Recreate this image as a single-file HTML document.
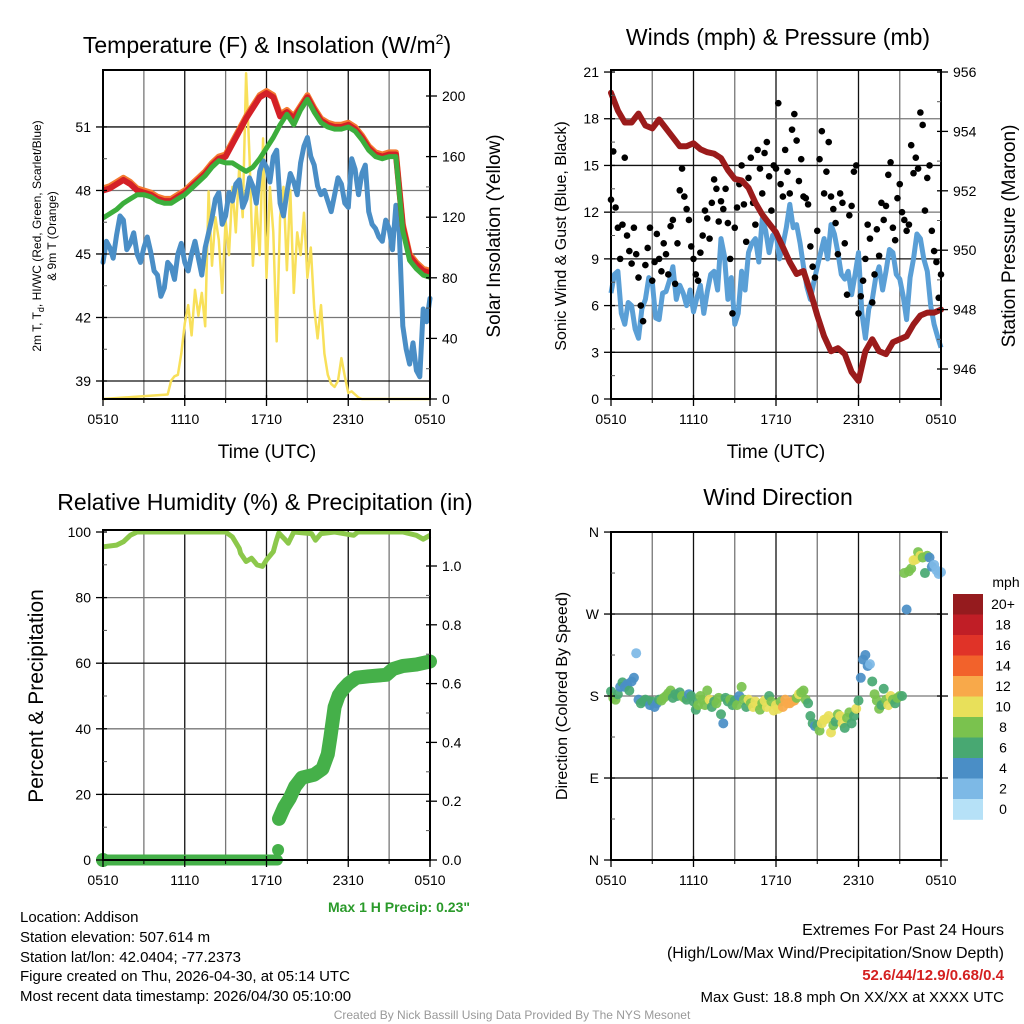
<!DOCTYPE html>
<html><head><meta charset="utf-8"><style>
html,body{margin:0;padding:0;background:#fff;}
svg{display:block;font-family:"Liberation Sans",sans-serif;}
</style></head><body>
<svg id="s" width="1024" height="1024" viewBox="0 0 1024 1024" xmlns="http://www.w3.org/2000/svg">
<rect width="1024" height="1024" fill="#fff"/>
<g id="g"></g>
<text x="267" y="53" font-size="23" text-anchor="middle">Temperature (F) &amp; Insolation (W/m<tspan font-size="14" dy="-9">2</tspan><tspan dy="9">)</tspan></text>
<text x="778" y="45" font-size="23" text-anchor="middle">Winds (mph) &amp; Pressure (mb)</text>
<text x="265" y="510" font-size="23" text-anchor="middle">Relative Humidity (%) &amp; Precipitation (in)</text>
<text x="778" y="505" font-size="23" text-anchor="middle">Wind Direction</text>
<text x="267" y="458" font-size="19" text-anchor="middle">Time (UTC)</text>
<text x="776" y="458" font-size="19" text-anchor="middle">Time (UTC)</text>
<text transform="translate(41,236) rotate(-90)" font-size="12" text-anchor="middle">2m T, T<tspan font-size="9" dy="3">d</tspan><tspan dy="-3">, HI/WC (Red, Green, Scarlet/Blue)</tspan></text>
<text transform="translate(56,236) rotate(-90)" font-size="12" text-anchor="middle">&amp; 9m T (Orange)</text>
<text transform="translate(500,236) rotate(-90)" font-size="19" text-anchor="middle">Solar Insolation (Yellow)</text>
<text transform="translate(566,236) rotate(-90)" font-size="16" text-anchor="middle">Sonic Wind &amp; Gust (Blue, Black)</text>
<text transform="translate(1015,236) rotate(-90)" font-size="19" text-anchor="middle">Station Pressure (Maroon)</text>
<text transform="translate(43,696) rotate(-90)" font-size="21" text-anchor="middle">Percent &amp; Precipitation</text>
<text transform="translate(567,696) rotate(-90)" font-size="16" text-anchor="middle">Direction (Colored By Speed)</text>
<text x="470" y="912" font-size="14" font-weight="bold" fill="#2a9a2a" text-anchor="end">Max 1 H Precip: 0.23"</text>
<g font-size="15">
<text x="20" y="922">Location: Addison</text>
<text x="20" y="942">Station elevation: 507.614 m</text>
<text x="20" y="962">Station lat/lon: 42.0404; -77.2373</text>
<text x="20" y="981">Figure created on Thu, 2026-04-30, at 05:14 UTC</text>
<text x="20" y="1001">Most recent data timestamp: 2026/04/30 05:10:00</text>
</g>
<g font-size="16" text-anchor="end">
<text x="1004" y="935">Extremes For Past 24 Hours</text>
<text x="1004" y="958">(High/Low/Max Wind/Precipitation/Snow Depth)</text>
<text x="1004" y="980" font-weight="bold" fill="#d42020" font-size="15">52.6/44/12.9/0.68/0.4</text>
<text x="1004" y="1002" font-size="15">Max Gust: 18.8 mph On XX/XX at XXXX UTC</text>
</g>
<text x="512" y="1019" font-size="12" fill="#999" text-anchor="middle">Created By Nick Bassill Using Data Provided By The NYS Mesonet</text>
</svg>
<script>
// ---- data (hours since 0510 UTC) ----
const halfHours = [0,0.5,1,1.5,2,2.5,3,3.5,4,4.5,5,5.5,6,6.5,7,7.5,8,8.5,9,9.5,10,10.5,11,11.5,12,12.5,13,13.5,14,14.5,15,15.5,16,16.5,17,17.5,18,18.5,19,19.5,20,20.5,21,21.5,22,22.5,23,23.5,24];
const tempRed = [48.0,48.1,48.3,48.5,48.3,48.0,47.9,47.8,47.6,47.5,47.5,47.7,47.9,48.2,48.5,48.8,49.2,49.5,49.6,50.2,50.8,51.4,51.9,52.4,52.6,52.4,51.5,51.7,51.4,51.9,52.4,51.8,51.3,51.1,51.0,51.0,51.1,50.9,50.5,50.0,49.7,49.6,49.7,49.7,46.3,44.9,44.5,44.2,44.1];
const tempOrange = [48.1,48.2,48.4,48.6,48.4,48.1,48.0,47.9,47.7,47.6,47.6,47.8,48.0,48.3,48.6,48.9,49.3,49.6,49.7,50.3,50.9,51.5,52.0,52.5,52.7,52.5,51.6,51.8,51.5,52.0,52.5,51.9,51.4,51.2,51.1,51.1,51.2,51.0,50.6,50.1,49.8,49.7,49.8,49.8,46.4,45.0,44.6,44.3,44.2];
const tempGreen = [46.7,46.9,47.1,47.4,47.6,47.8,47.8,47.7,47.5,47.4,47.4,47.6,47.8,48.1,48.4,48.7,49.1,49.4,49.3,49.3,49.1,48.9,49.1,49.5,50.0,50.5,51.1,51.6,51.1,51.8,52.3,51.7,51.2,51.0,50.9,50.9,51.0,50.8,50.4,49.9,49.6,49.5,49.6,49.6,46.1,44.7,44.3,44.0,43.9];
const dewBlue = [44.6,45.3,45.9,46.6,45.5,45.0,45.3,45.1,44.0,43.4,44.4,45.0,44.6,45.0,44.8,45.3,46.7,47.9,46.8,47.5,48.5,47.6,48.2,48.9,49.1,49.6,47.4,47.9,48.4,49.3,50.5,49.2,47.8,47.5,47.8,48.3,47.2,49.0,48.8,47.0,46.2,45.6,46.2,47.3,41.6,39.8,39.5,42.4,42.9];
const dewBlueMid = [45.6,44.8,46.8,45.2,46.0,44.6,45.8,44.2,43.0,44.6,43.8,45.5,44.2,45.6,44.0,46.0,47.6,46.4,47.9,48.3,47.2,48.6,47.4,49.4,48.4,49.9,46.8,48.8,47.8,50.1,49.6,48.2,48.0,47.0,48.6,47.4,49.5,47.8,49.2,46.4,45.8,46.6,45.2,46.0,40.5,40.8,39.2,41.8];
const solarStart = 4.75; // hours, 0.25 h step
const solarVals = [3,12,15,16,30,50,62,42,72,55,70,48,137,88,120,105,70,118,95,140,110,154,120,215,160,88,130,95,172,80,140,110,38,120,140,85,138,70,110,95,123,80,100,60,40,62,30,16,10,8,12,27,15,4,5,3,1,0];
const pressure = [955.3,954.7,954.3,954.3,954.6,954.2,954.1,954.4,954.1,953.8,953.5,953.5,953.6,953.4,953.3,953.25,953.1,952.7,952.4,952.35,952.1,951.6,951.2,950.9,950.6,950.1,949.6,949.2,949.3,948.6,947.8,947.1,946.6,946.7,946.5,945.9,945.6,946.6,947.0,946.6,946.5,946.9,947.0,947.1,947.5,947.8,947.9,947.9,948.0];
const windSpeed = [6.8,8.2,4.8,6.0,3.9,6.4,7.5,5.1,6.9,8.5,7.3,6.0,5.6,7.3,6.9,8.2,10.3,6.4,4.8,8.2,9.4,10.3,11.6,9.4,10.7,9.9,12.5,11.2,8.5,6.4,8.5,10.3,11.2,9.4,7.7,6.7,9.4,3.9,6.4,8.5,8.2,9.4,7.7,5.1,9.0,10.3,8.2,4.8,3.3];
const windSpeedMid = [8.0,5.5,6.2,4.5,5.8,7.8,5.2,6.8,7.6,6.4,6.8,7.0,6.5,5.5,8.0,7.0,9.2,7.8,5.5,7.0,10.0,8.8,10.8,10.5,9.0,11.0,11.0,10.0,7.2,7.5,9.4,9.0,10.6,8.0,8.2,8.0,5.5,5.8,7.8,7.0,9.6,8.0,6.6,7.8,10.6,9.0,6.0,4.0];
const gustVals = [12.8,15.9,12.3,11.0,9.0,11.2, 15.5,10.5,9.5,8.7,11.0,9.3, 7.8,6.0,5.0,8.6,9.7,11.0, 7.6,8.8,10.6,9.0,8.2,10.0, 9.3,8.0,11.1,11.5,7.4,10.0, 13.4,14.8,13.0,12.2,11.5,9.8, 9.0,8.0,7.6,9.4,10.5,12.1, 11.6,10.3,12.6,14.1,13.5,11.4, 12.7,12.2,13.5,11.3,9.0,5.5, 11.0,12.3,13.8,15.0,12.5,10.1, 14.2,15.5,12.6,11.2,16.0,14.8, 13.2,15.8,16.5,14.3,12.1,15.0, 14.8,19.0,13.8,13.0,16.0,14.6, 13.2,17.3,18.3,16.6,14.0,15.4, 13.0,12.9,12.5,9.8,8.5,7.8, 10.8,15.4,17.2,13.2,14.6,16.5, 13.0,12.2,11.3,9.3,13.2,12.6, 10.0,6.7,11.8,12.4,14.6,15.0, 5.5,6.6,7.6,9.0,11.2,10.3, 6.2,8.0,10.9,9.2,12.6,11.5, 12.4,14.4,15.2,11.0,10.2,12.9, 13.8,12.0,11.5,10.8,11.2,16.3, 14.5,15.5,14.8,18.4,17.6,12.1, 14.2,15.0,10.8,9.5,8.8,6.5, 8.0];
const rhHours = [0,1,1.5,2,2.5,9,9.5,10,10.1,10.5,10.9,11.3,11.7,12.0,12.5,12.7,12.9,13.3,13.6,14.0,15.3,15.6,16.0,17.0,18.4,18.7,22.0,23.0,23.5,24];
const rhVals = [95.5,96,97,99,100,100,98.5,95,93.5,91,92,90,89.5,91.5,94,97,99.7,98,96.6,100,99.5,97.5,99.5,100,99,100,100,99,97.8,99];
const precipDryHours = [0,12.8];
const precipDryVals = [0,0];
const precipDotHour = [12.85];
const precipDotVal = [0.034];
const precipHours = [12.92,13.3,13.7,14.1,14.6,15.5,16.1,16.5,16.7,17.0,17.3,17.6,18.0,18.6,19.5,20.8,21.3,22.0,23.0,24];
const precipVals = [0.14,0.18,0.21,0.25,0.28,0.29,0.31,0.36,0.42,0.52,0.56,0.58,0.60,0.62,0.625,0.63,0.65,0.66,0.665,0.675];
const dirVals = [185,178,176,182,190,195, 190,193,186,196,200,227, 176,172,174,176,175,170, 174,168,172,176,175,178, 180,183,186,178,182,180, 184,180,178,176,182,180, 174,165,170,180,176,170, 186,176,168,174,172,178, 160,150,178,174,176,170, 175,170,180,190,176,168, 176,172,168,174,170,165, 172,175,168,180,174,164, 170,166,174,168,176,172, 172,174,175,178,182,184, 186,176,172,158,150,147, 148,142,150,154,155,158, 140,148,152,160,158,150, 145,156,162,150,158,166, 175,200,220,225,213,215, 196,182,175,166,170,188, 176,170,180,176,172,178, 180,180,315,275,317,320, 329,330,338,334,332,315, 334,332,322,324,318,314, 316];
const dirSpeed = [6,8,8,5,4,6, 4,4,6,4,3,2, 4,6,6,6,5,4, 6,4,4,6,8,8, 8,8,8,6,6,6, 6,8,8,6,4,6, 6,6,8,8,8,8, 8,10,6,6,8,8, 6,4,6,6,8,6, 6,8,4,8,8,6, 10,8,10,10,10,8, 8,10,10,6,8,10, 10,10,8,12,12,12, 12,12,12,8,10,8, 8,8,6,6,6,4, 6,8,10,10,10,10, 10,8,6,8,10,10, 6,8,8,6,6,10, 6,4,4,4,4,2, 6,8,8,8,6,6, 8,10,10,8,6,8, 8,6,8,4,8,8, 10,10,8,10,8,6, 8,4,4,2,2,2, 2];
const speedLabels = ["0","2","4","6","8","10","12","14","16","18","20+"];
const speedColors = ["#b6e1f7","#7db9e6","#4a8ec6","#48a872","#7ac24e","#e8e05a","#f8a94a","#f2622b","#e03328","#c01e26","#951b1e"];
const timeLabels = ["0510","1110","1710","2310","0510"];
const tempTicks = [39,42,45,48,51];
const solarTicks = [0,40,80,120,160,200];
const windTicks = [0,3,6,9,12,15,18,21];
const presTicks = [946,948,950,952,954,956];
const rhTicks = [0,20,40,60,80,100];
const precipTicks = [0.0,0.2,0.4,0.6,0.8,1.0];
const dirTicks = [0,90,180,270,360];
const dirLabels = ["N","E","S","W","N"];

// ---- scales ----
const P1={x0:103,x1:430,y0:70,y1:399}, P2={x0:611,x1:941,y0:70,y1:399}, P3={x0:103,x1:430,y0:530,y1:860}, P4={x0:611,x1:941,y0:532,y1:860};
const x1 = h=>103+h*13.625, x2 = h=>611+h*13.75;
const yT = t=>381-(t-39)*21.17, yS = s=>399-s*1.515;
const yW = v=>399-v*15.57, yP = p=>369-(p-946)*29.7;
const yR = r=>860-r*3.28, yI = i=>860-i*294;
const yD = d=>860-d*0.911;

const NS="http://www.w3.org/2000/svg", G=document.getElementById('g');
function mk(tag, attrs, parent){const e=document.createElementNS(NS,tag);for(const k in attrs)e.setAttribute(k,attrs[k]);(parent||G).appendChild(e);return e;}
function grp(name){const g=mk('g',{});return g;}
function pts(xs,ys,fx,fy){return xs.map((h,i)=>fx(h).toFixed(1)+','+fy(ys[i]).toFixed(1)).join(' ');}
function interleave(main,mid){const hs=[],vs=[];main.forEach((v,i)=>{hs.push(halfHours[i]);vs.push(v);if(i<mid.length){hs.push(halfHours[i]+0.25);vs.push(mid[i]);}});return [hs,vs];}

function frame(P,name,hLines){
  const g=grp(name);
  for(let i=1;i<8;i++){const x=P.x0+(P.x1-P.x0)*i/8;mk('line',{x1:x,x2:x,y1:P.y0,y2:P.y1,stroke:i%2?'#777':'#111','stroke-width':1.3},g);}
  hLines.forEach((y,i)=>{mk('line',{x1:P.x0,x2:P.x1,y1:y,y2:y,stroke:i%2?'#777':'#111','stroke-width':1.3},g);});
  return g;
}
function border(P,name){const r=mk('rect',{x:P.x0,y:P.y0,width:P.x1-P.x0,height:P.y1-P.y0,fill:'none',stroke:'#000','stroke-width':2});}
function xAxis(P,name){
  const g=grp(name);
  timeLabels.forEach((lab,i)=>{const x=P.x0+(P.x1-P.x0)*i/4;
    mk('line',{x1:x,x2:x,y1:P.y1-4,y2:P.y1+7,stroke:'#000','stroke-width':1.3},g);
    const t=mk('text',{x:x,y:P.y1+25,'font-size':14,'text-anchor':'middle'},g);t.textContent=lab;});
  for(let i=1;i<8;i+=2){const x=P.x0+(P.x1-P.x0)*i/8;mk('line',{x1:x,x2:x,y1:P.y1,y2:P.y1+4,stroke:'#000'},g);}
}
function yAxis(ticks,labels,fy,x,side,name){
  const g=grp(name);
  ticks.forEach((v,i)=>{const y=fy(v);
    mk('line',{x1:x-(side<0?7:4),x2:x+(side<0?4:7),y1:y,y2:y,stroke:'#000','stroke-width':1.3},g);
    const t=mk('text',{x:x+side*12,y:y+5,'font-size':14,'text-anchor':side<0?'end':'start'},g);t.textContent=labels[i];});
  for(let i=0;i<ticks.length-1;i++){const y=(fy(ticks[i])+fy(ticks[i+1]))/2;mk('line',{x1:x-side*4,x2:x,y1:y,y2:y,stroke:'#555'},g);}
}

// ---- Panel 1 ----
frame(P1,'temp-grid',tempTicks.map(yT));
const solarHours = solarVals.map((v,i)=>solarStart+i*0.25);
let sl=mk('polyline',{points:x1(0)+','+yS(0)+' '+pts(solarHours,solarVals,x1,yS)+' '+x1(24)+','+yS(0),fill:'none',stroke:'#f8e05a','stroke-width':2.5,'stroke-linejoin':'round'});

const dew=interleave(dewBlue,dewBlueMid);
let bl=mk('polyline',{points:pts(dew[0],dew[1],x1,yT),fill:'none',stroke:'#4a8ec6','stroke-width':5,'stroke-linejoin':'round','stroke-linecap':'round'});

let ol=mk('polyline',{points:pts(halfHours,tempOrange,x1,yT),fill:'none',stroke:'#f47a30','stroke-width':6,'stroke-linejoin':'round'});

let rl=mk('polyline',{points:pts(halfHours,tempRed,x1,yT),fill:'none',stroke:'#d42027','stroke-width':6,'stroke-linejoin':'round'});

let gl=mk('polyline',{points:pts(halfHours,tempGreen,x1,yT),fill:'none',stroke:'#3cae3c','stroke-width':5,'stroke-linejoin':'round'});

border(P1,'temp-plot-border');
xAxis(P1,'temp-x-axis');
yAxis(tempTicks,tempTicks.map(String),yT,P1.x0,-1,'temp-y-axis');
yAxis(solarTicks,solarTicks.map(String),yS,P1.x1,1,'solar-y-axis');

// ---- Panel 2 ----
frame(P2,'wind-grid',windTicks.slice(1,7).map(yW));
const ws=interleave(windSpeed,windSpeedMid);
let wl=mk('polyline',{points:pts(ws[0],ws[1],x2,yW),fill:'none',stroke:'#5a9fd6','stroke-width':5,'stroke-linejoin':'round'});

const gg=grp('gust-points');
gustVals.forEach((v,i)=>{const c=mk('circle',{cx:x2(i/6),cy:yW(v),r:3.3,fill:'#000'},gg);
  
  });
let pl=mk('polyline',{points:pts(halfHours,pressure,x2,yP),fill:'none',stroke:'#9b1b1b','stroke-width':6,'stroke-linejoin':'round','stroke-linecap':'round'});

border(P2,'wind-plot-border');
xAxis(P2,'wind-x-axis');
yAxis(windTicks,windTicks.map(String),yW,P2.x0,-1,'wind-y-axis');
yAxis(presTicks,presTicks.map(String),yP,P2.x1,1,'pressure-y-axis');

// ---- Panel 3 ----
frame(P3,'rh-grid',rhTicks.slice(1,5).map(yR));
let rh=mk('polyline',{points:pts(rhHours,rhVals,x1,yR),fill:'none',stroke:'#8cc84b','stroke-width':5,'stroke-linejoin':'round'});

let pd=mk('polyline',{points:pts(precipDryHours,precipDryVals,x1,yI),fill:'none',stroke:'#45b049','stroke-width':11,'stroke-linecap':'round'});

let sd=mk('circle',{cx:x1(0),cy:yI(0),r:7,fill:'#45b049'});

let pdot=mk('circle',{cx:x1(precipDotHour[0]),cy:yI(precipDotVal[0]),r:6,fill:'#45b049'});

let pr=mk('polyline',{points:pts(precipHours,precipVals,x1,yI),fill:'none',stroke:'#45b049','stroke-width':14,'stroke-linejoin':'round','stroke-linecap':'round'});

border(P3,'rh-plot-border');
xAxis(P3,'rh-x-axis');
yAxis(rhTicks,rhTicks.map(String),yR,P3.x0,-1,'rh-y-axis');
yAxis(precipTicks,precipTicks.map(v=>v.toFixed(1)),yI,P3.x1,1,'precip-y-axis');

// ---- Panel 4 ----
frame(P4,'direction-grid',dirTicks.slice(1,4).map(yD));
const dg=grp('direction-points');
dirVals.forEach((d,i)=>{const idx=Math.min(10,Math.max(0,Math.round(dirSpeed[i]/2)));
  const c=mk('circle',{cx:x2(i/6),cy:yD(d),r:5,fill:speedColors[idx],'fill-opacity':0.92},dg);
  
  });
border(P4,'direction-plot-border');
xAxis(P4,'direction-x-axis');
yAxis(dirTicks,dirLabels,yD,P4.x0,-1,'direction-y-axis');
dirTicks.forEach(d=>{mk('line',{x1:P4.x1-4,x2:P4.x1+7,y1:yD(d),y2:yD(d),stroke:'#000','stroke-width':1.3});});

// ---- colorbar ----
const cb=grp('speed-colorbar');
const cbTop=594, cbH=20.5;
speedColors.slice().reverse().forEach((c,i)=>{
  const r=mk('rect',{x:953,y:cbTop+i*cbH,width:30,height:cbH+0.3,fill:c},cb);
  
  
  const t=mk('text',{x:1003,y:cbTop+i*cbH+15,'font-size':14,'text-anchor':'middle'},cb);t.textContent=speedLabels[10-i];});
const mph=mk('text',{x:1006,y:587,'font-size':14,'text-anchor':'middle'},cb);mph.textContent='mph';
</script>
</body></html>
